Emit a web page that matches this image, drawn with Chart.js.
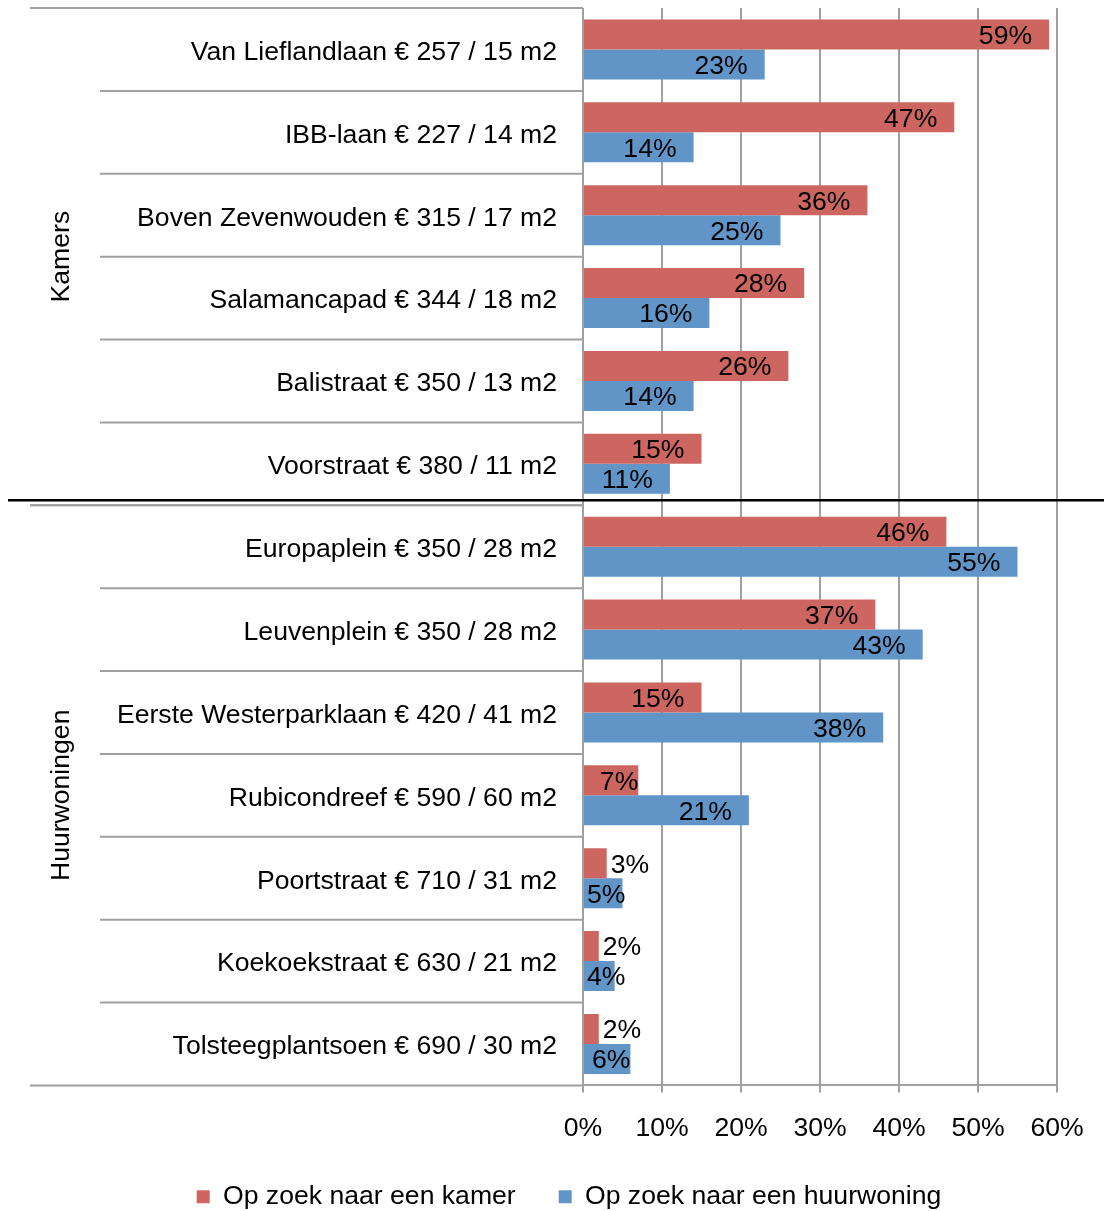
<!DOCTYPE html>
<html>
<head>
<meta charset="utf-8">
<script src="https://cdn.jsdelivr.net/npm/chart.js@4.4.0/dist/chart.umd.min.js"></script>
<style>
  html, body { margin: 0; padding: 0; background: #fff; }
  #wrap { width: 1104px; height: 1211px; }
</style>
</head>
<body>
<div id="wrap"><canvas id="chart" width="1104" height="1211"></canvas></div>
<script>
var categories = [
    'Van Lieflandlaan € 257 / 15 m2',
    'IBB-laan € 227 / 14 m2',
    'Boven Zevenwouden € 315 / 17 m2',
    'Salamancapad € 344 / 18 m2',
    'Balistraat € 350 / 13 m2',
    'Voorstraat € 380 / 11 m2',
    'Europaplein € 350 / 28 m2',
    'Leuvenplein € 350 / 28 m2',
    'Eerste Westerparklaan € 420 / 41 m2',
    'Rubicondreef € 590 / 60 m2',
    'Poortstraat € 710 / 31 m2',
    'Koekoekstraat € 630 / 21 m2',
    'Tolsteegplantsoen € 690 / 30 m2'
];
var groupNames = ['Kamers', 'Huurwoningen'];
var groupSizes = [6, 7];
var kamerValues = [59, 47, 36, 28, 26, 15, 46, 37, 15, 7, 3, 2, 2];
var huurValues = [23, 14, 25, 16, 14, 11, 55, 43, 38, 21, 5, 4, 6];
var xTicks = [0, 10, 20, 30, 40, 50, 60];

var FONT = '"Liberation Sans", Arial, sans-serif';
var FONT_SIZE = 26.6;
Chart.defaults.font.family = FONT;
Chart.defaults.font.size = FONT_SIZE;
Chart.defaults.color = '#000';

// percentage labels at the end of each bar, pushed outside when the bar is too short
var barLabels = {
    id: 'barLabels',
    afterDatasetsDraw: function(chart) {
        var ctx = chart.ctx;
        ctx.save();
        ctx.font = FONT_SIZE + 'px ' + FONT;
        ctx.fillStyle = '#000';
        ctx.textBaseline = 'middle';
        chart.data.datasets.forEach(function(ds, di) {
            chart.getDatasetMeta(di).data.forEach(function(bar, i) {
                var text = ds.data[i] + '%';
                var w = ctx.measureText(text).width;
                var len = bar.x - bar.base;
                var y = bar.y + 2;
                if (len < 0.75 * w) {
                    ctx.textAlign = 'left';
                    ctx.fillText(text, bar.x + 4, y);
                } else {
                    var right = bar.x - 17;
                    if (right - w < bar.base + 3) right = Math.max(bar.x, bar.base + 3 + w);
                    ctx.textAlign = 'right';
                    ctx.fillText(text, right, y);
                }
            });
        });
        ctx.restore();
    }
};

// row separators in the label column, group titles and the divider between groups
var groupFrame = {
    id: 'groupFrame',
    afterDraw: function(chart) {
        var ctx = chart.ctx;
        var area = chart.chartArea;
        var yScale = chart.scales.y;
        var step = yScale.getPixelForTick(1) - yScale.getPixelForTick(0);

        function hline(x1, y, x2) {
            ctx.beginPath();
            ctx.moveTo(x1, y);
            ctx.lineTo(x2, y);
            ctx.stroke();
        }

        ctx.save();
        ctx.lineWidth = 2;
        ctx.strokeStyle = '#a0a0a0';
        var start = 0;
        var dividers = [];
        groupSizes.forEach(function(size, g) {
            var top = yScale.getPixelForTick(start) - step / 2;
            var bottom = yScale.getPixelForTick(start + size - 1) + step / 2;
            hline(30, top, area.left);
            hline(30, bottom, area.left);
            for (var k = 1; k < size; k++) {
                hline(100, yScale.getPixelForTick(start + k) - step / 2, area.left);
            }
            ctx.save();
            ctx.fillStyle = '#000';
            ctx.font = FONT_SIZE + 'px ' + FONT;
            ctx.translate(62, (top + bottom) / 2);
            ctx.rotate(-Math.PI / 2);
            ctx.textAlign = 'center';
            ctx.textBaseline = 'middle';
            ctx.fillText(groupNames[g], 0, 0);
            ctx.restore();
            if (g > 0) dividers.push(top);
            start += size;
        });

        ctx.strokeStyle = '#000';
        ctx.lineWidth = 2.5;
        dividers.forEach(function(y) {
            hline(8, y - 5, chart.width);
        });
        ctx.restore();
    }
};

var ctx = document.getElementById('chart');

var myChart = new Chart(ctx, {
    type: 'bar',
    data: {
        labels: categories,
        datasets: [{
            label: 'Op zoek naar een kamer',
            data: kamerValues,
            backgroundColor: '#cd6660',
            categoryPercentage: 0.723,
            barPercentage: 1
        }, {
            label: 'Op zoek naar een huurwoning',
            data: huurValues,
            backgroundColor: '#6195c8',
            categoryPercentage: 0.723,
            barPercentage: 1
        }]
    },
    options: {
        indexAxis: 'y',
        responsive: false,
        animation: false,
        layout: {
            padding: { top: 8, right: 47, bottom: -9, left: 81 }
        },
        scales: {
            x: {
                min: 0,
                max: 60,
                afterBuildTicks: function(scale) {
                    scale.ticks = xTicks.map(function(v) { return { value: v }; });
                },
                afterFit: function(scale) { scale.height = 55; },
                grid: { color: '#a0a0a0', lineWidth: 2, tickLength: 7 },
                border: { display: true, color: '#a0a0a0', width: 2 },
                ticks: {
                    padding: 20,
                    color: '#000',
                    callback: function(v) { return v + '%'; }
                }
            },
            y: {
                afterFit: function(scale) {
                    scale.width = 502;
                    scale.paddingTop = 0;
                    scale.paddingBottom = 0;
                },
                grid: { display: false, drawTicks: false },
                border: { display: false },
                ticks: { padding: 26, labelOffset: 3, color: '#000', autoSkip: false }
            }
        },
        plugins: {
            legend: {
                position: 'bottom',
                labels: {
                    boxWidth: 13,
                    boxHeight: 13,
                    padding: 43,
                    color: '#000',
                    font: { size: FONT_SIZE }
                }
            },
            tooltip: { enabled: false }
        }
    },
    plugins: [barLabels, groupFrame]
});
</script>
</body>
</html>
